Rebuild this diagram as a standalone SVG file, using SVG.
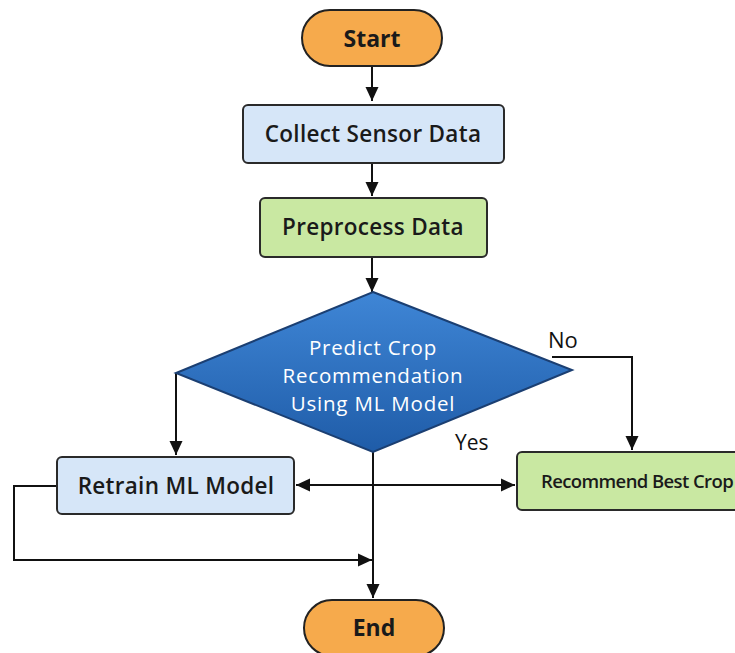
<svg xmlns="http://www.w3.org/2000/svg" width="735" height="653" viewBox="0 0 735 653">
  <defs>
    <linearGradient id="diamondFill" x1="0" y1="0" x2="0" y2="1">
      <stop offset="0" stop-color="#3f86d6"/>
      <stop offset="1" stop-color="#1f5ca8"/>
    </linearGradient>
    <marker id="arrow" viewBox="0 0 14 14" refX="14" refY="7" markerWidth="14" markerHeight="14" markerUnits="userSpaceOnUse" orient="auto">
      <path d="M0,0.5 L14,7 L0,13.5 Z" fill="#111"/>
    </marker>
    <style>
      .terminal { fill: #f6aa4c; stroke: #222; stroke-width: 2; }
      .blue { fill: #d6e6f8; stroke: #2a2a2a; stroke-width: 2; }
      .green { fill: #c9e8a2; stroke: #2a2a2a; stroke-width: 2; }
      .label { font-family: "Open Sans", "Noto Sans", sans-serif; font-weight: 600; fill: #1a1a1a; text-anchor: middle; }
      .box { font-size: 22.5px; letter-spacing: 0.3px; }
      .strong { font-weight: 700; }
      .inverse { font-weight: 400; fill: #ffffff; font-size: 20.5px; letter-spacing: 0.8px; }
      .edge { fill: none; stroke: #111; stroke-width: 2; }
      .edgeLabel { font-family: "Open Sans", "Noto Sans", sans-serif; fill: #111; }
    </style>
  </defs>
  <rect width="735" height="653" fill="#ffffff"/>

  <g id="connectors">
    <path class="edge" d="M372,66 L372,101" marker-end="url(#arrow)"/>
    <path class="edge" d="M372,163 L372,196" marker-end="url(#arrow)"/>
    <path class="edge" d="M372,257 L372,292" marker-end="url(#arrow)"/>
    <!-- left branch to retrain -->
    <path class="edge" d="M176,373 L176,455" marker-end="url(#arrow)"/>
    <!-- "No" branch to recommendation -->
    <path class="edge" d="M552,357 L632,357 L632,450" marker-end="url(#arrow)"/>
    <!-- "Yes" branch down to End -->
    <path class="edge" d="M373,452 L373,598" marker-end="url(#arrow)"/>
    <!-- horizontal crossing line -->
    <path class="edge" d="M373,485 L296,485" marker-end="url(#arrow)"/>
    <path class="edge" d="M373,485 L515,485" marker-end="url(#arrow)"/>
    <!-- retrain loop back -->
    <path class="edge" d="M57,486 L14,486 L14,560 L372,560" marker-end="url(#arrow)"/>
    <text class="edgeLabel" x="548" y="348" font-size="22">No</text>
    <text class="edgeLabel" x="455" y="450" font-size="21">Yes</text>
  </g>

  <g id="start">
    <rect class="terminal" x="302" y="10" width="140" height="56" rx="28"/>
    <text class="label strong" x="372" y="47" font-size="23">Start</text>
  </g>

  <g id="collect">
    <rect class="blue" x="243" y="105" width="261" height="58" rx="5"/>
    <text class="label box" x="373" y="142">Collect Sensor Data</text>
  </g>

  <g id="preprocess">
    <rect class="green" x="260" y="198" width="227" height="59" rx="5"/>
    <text class="label box" x="373" y="235">Preprocess Data</text>
  </g>

  <g id="predict">
    <path d="M373,292 L572,370 L373,452 L176,373 Z" fill="url(#diamondFill)" stroke="#1b3f72" stroke-width="2"/>
    <text class="label inverse" x="373" y="355">Predict Crop</text>
    <text class="label inverse" x="373" y="383">Recommendation</text>
    <text class="label inverse" x="373" y="411">Using ML Model</text>
  </g>

  <g id="retrain">
    <rect class="blue" x="57" y="457" width="237" height="57" rx="5"/>
    <text class="label box" x="176" y="494">Retrain ML Model</text>
  </g>

  <g id="recommend">
    <rect class="green" x="517" y="452" width="230" height="58" rx="5"/>
    <text class="label" x="637" y="488" font-size="18.5" letter-spacing="-0.6">Recommend Best Crop</text>
  </g>

  <g id="end">
    <rect class="terminal" x="304" y="600" width="140" height="56" rx="28"/>
    <text class="label strong" x="374" y="636" font-size="23">End</text>
  </g>
</svg>
